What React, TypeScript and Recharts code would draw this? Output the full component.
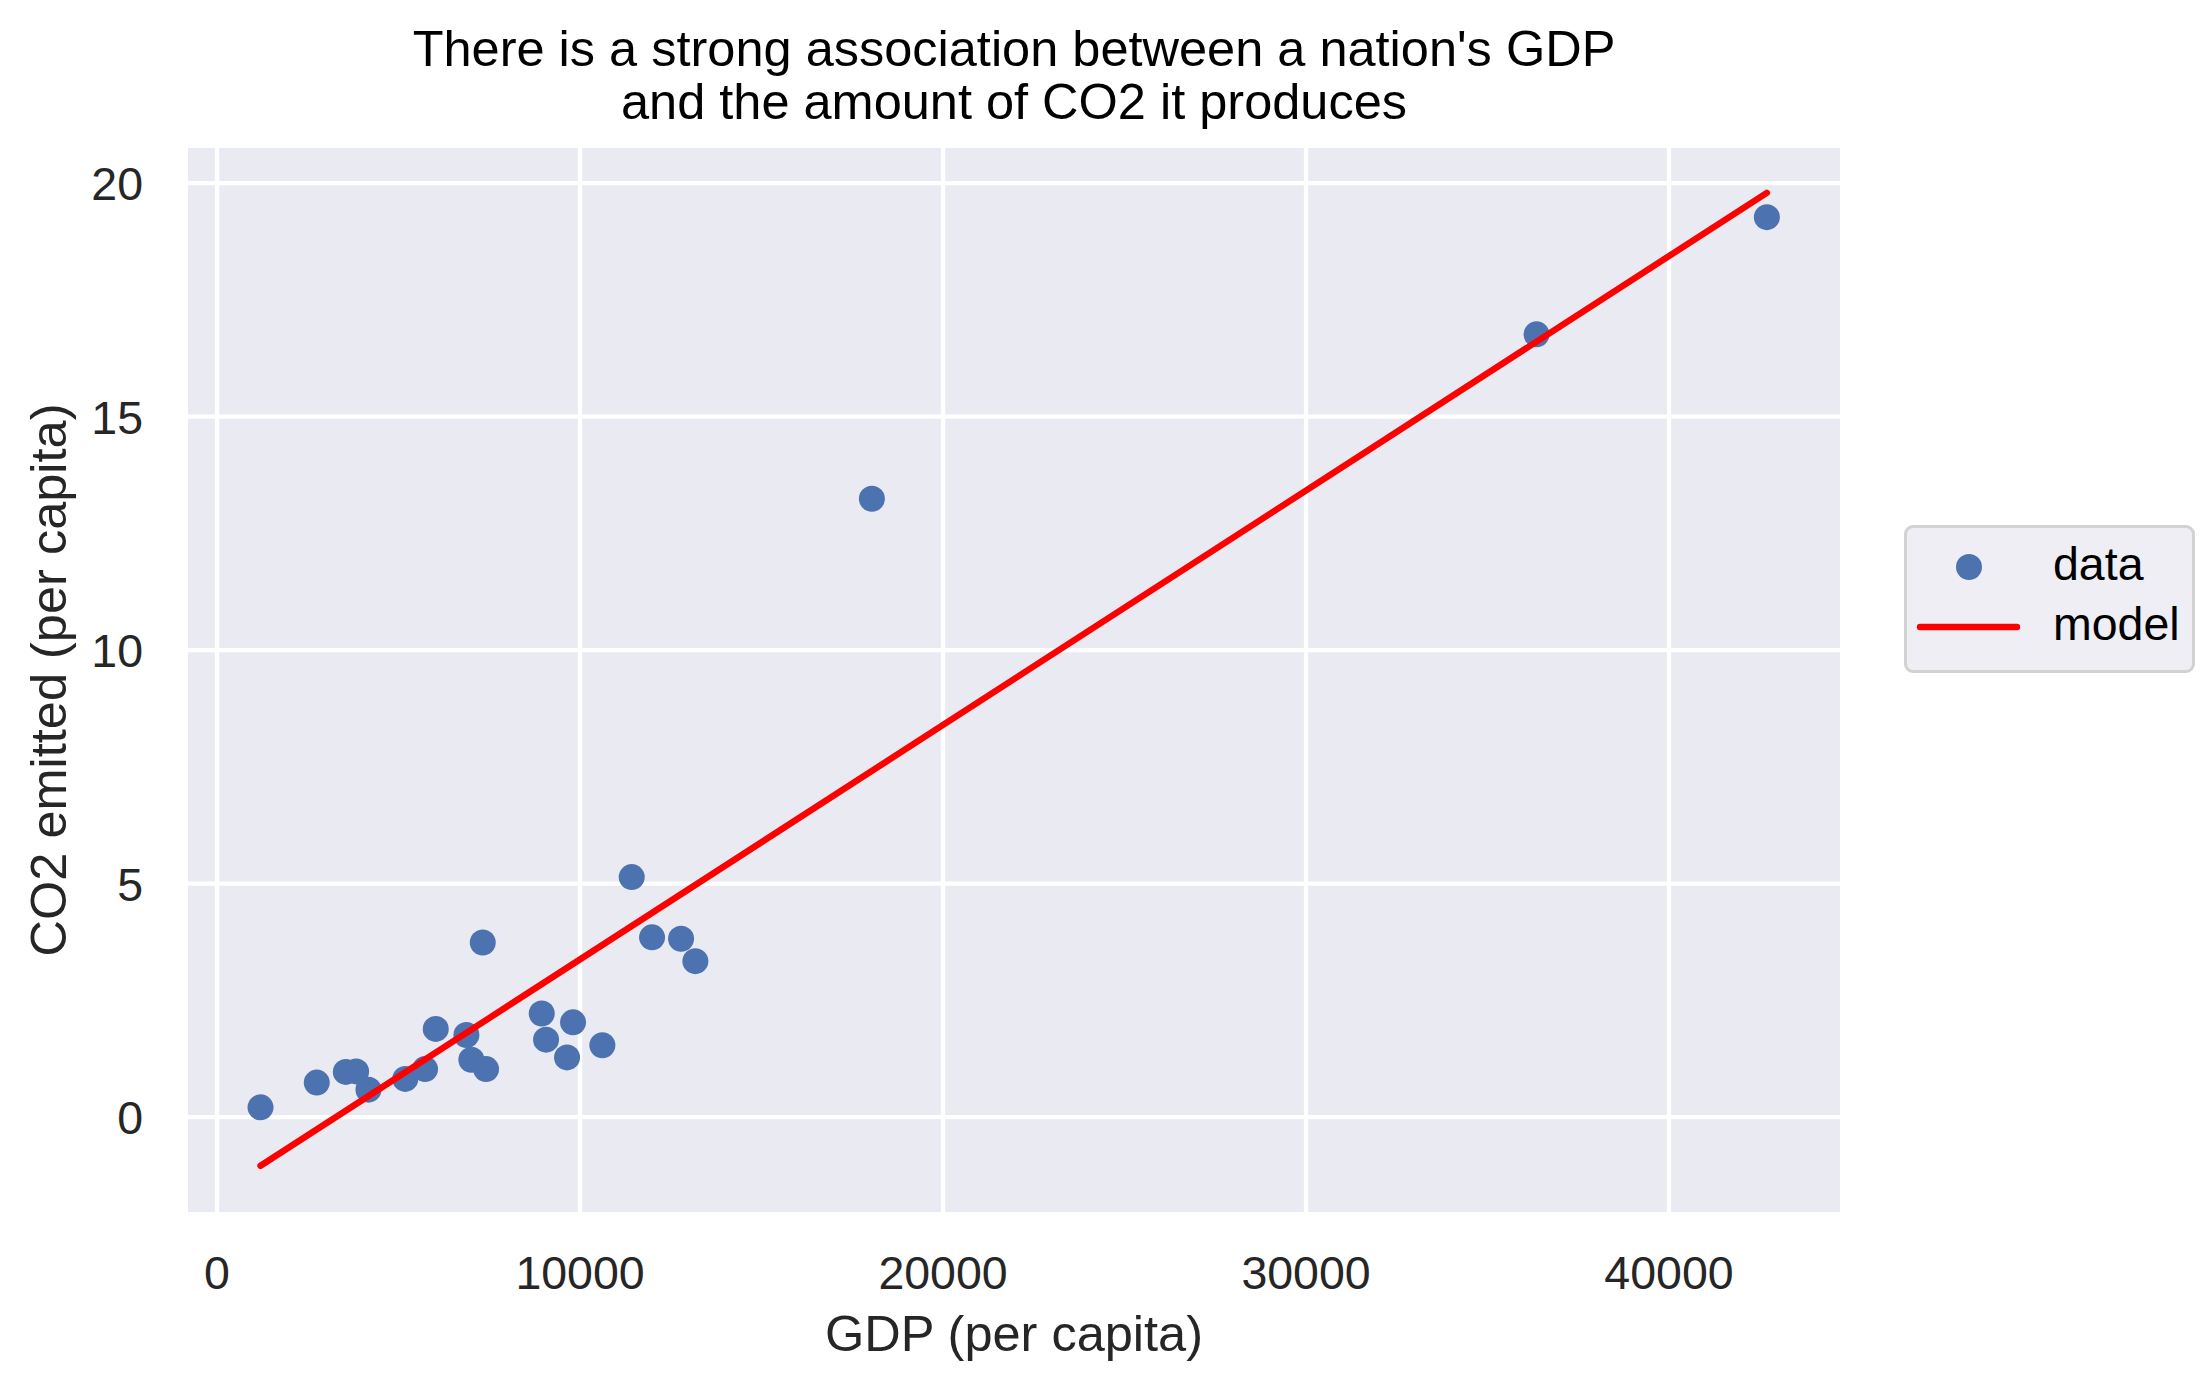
import React from "react";
import { ScatterChart, Scatter, XAxis, YAxis, CartesianGrid, Legend } from "recharts";

const gdpValues = [1198, 2747, 3548, 3832, 4171, 5185, 5730, 6025, 6869, 7006, 7320, 7411, 8945, 9064, 9642, 9807, 10615, 11424, 11984, 12783, 13177, 18040, 36350, 42695];
const co2Values = [0.21, 0.74, 0.97, 0.98, 0.59, 0.82, 1.03, 1.89, 1.76, 1.23, 3.74, 1.03, 2.22, 1.66, 1.28, 2.03, 1.54, 5.14, 3.85, 3.82, 3.34, 13.24, 16.76, 19.27];
const modelGdp = [1198, 42695];
const modelCo2 = [-1.04, 19.79];
const xTicks = [0, 10000, 20000, 30000, 40000];
const yTicks = [0, 5, 10, 15, 20];
const titleLines = ["There is a strong association between a nation's GDP", "and the amount of CO2 it produces"];
const xLabel = "GDP (per capita)";
const yLabel = "CO2 emitted (per capita)";

const dataPts = gdpValues.map((g, i) => ({ gdp: g, co2: co2Values[i] }));
const modelPts = modelGdp.map((g, i) => ({ gdp: g, co2: modelCo2[i] }));

const FONT = '"Liberation Sans", Arial, sans-serif';

const XTick = (props: any) => (
  <text x={props.x} y={1289} textAnchor="middle" fontFamily={FONT} fontSize={46.5} fill="#262626">
    {props.payload.value}
  </text>
);

const YTick = (props: any) => (
  <text x={143} y={props.y} dy={17} textAnchor="end" fontFamily={FONT} fontSize={46.5} fill="#262626">
    {props.payload.value}
  </text>
);

const renderLegend = (props: any) => {
  const payload = props.payload || [];
  return (
    <div style={{ width: 291, height: 148, boxSizing: "border-box", border: "3px solid #D2D2D2", borderRadius: 9, background: "#EEEEF4" }}>
      <svg width={285} height={142} style={{ display: "block" }}>
        {payload.map((entry: any, i: number) => {
          const cy = i === 0 ? 39 : 99;
          return (
            <g key={i}>
              {entry.type === "line" ? (
                <line x1={13} x2={110} y1={cy} y2={cy} stroke="#FF0000" strokeWidth={6.4} strokeLinecap="round" />
              ) : (
                <circle cx={62} cy={cy} r={13} fill="#4C72B0" />
              )}
              <text x={146} y={cy + 13} fontFamily={FONT} fontSize={46.5} fill="#000">
                {entry.value}
              </text>
            </g>
          );
        })}
      </svg>
    </div>
  );
};

export default function App() {
  return (
    <div style={{ position: "absolute", left: 0, top: 0, width: 2200, height: 1391, background: "#fff" }}>
      <ScatterChart width={2200} height={1391} margin={{ top: 148, right: 360, bottom: 79, left: 88 }}>
        <CartesianGrid fill="#EAEAF2" stroke="#FFFFFF" strokeWidth={4.3} horizontalValues={yTicks} verticalValues={xTicks} />
        <XAxis
          type="number"
          dataKey="gdp"
          domain={[-800, 44710]}
          ticks={xTicks}
          allowDataOverflow
          axisLine={false}
          tickLine={false}
          height={100}
          tick={<XTick />}
          interval={0}
        />
        <YAxis
          type="number"
          dataKey="co2"
          domain={[-2.03, 20.75]}
          ticks={yTicks}
          allowDataOverflow
          axisLine={false}
          tickLine={false}
          width={100}
          tick={<YTick />}
          interval={0}
        />
        <Legend
          content={renderLegend}
          layout="horizontal"
          verticalAlign="middle"
          align="center"
          wrapperStyle={{ left: 1904, top: 525, width: 291, height: 148 }}
        />
        <Scatter
          name="data"
          data={dataPts}
          fill="#4C72B0"
          legendType="circle"
          isAnimationActive={false}
          shape={(p: any) => <circle cx={p.cx} cy={p.cy} r={13} fill="#4C72B0" />}
        />
        <Scatter
          name="model"
          data={modelPts}
          fill="#FF0000"
          legendType="line"
          line={{ stroke: "#FF0000", strokeWidth: 6.4, strokeLinecap: "round" }}
          lineType="joint"
          isAnimationActive={false}
          shape={() => <g />}
        />
      </ScatterChart>
      <svg width={2200} height={1391} style={{ position: "absolute", left: 0, top: 0, pointerEvents: "none" }}>
        <text x={1014} y={66} textAnchor="middle" fontFamily={FONT} fontSize={50.5} fill="#000">{titleLines[0]}</text>
        <text x={1014} y={119} textAnchor="middle" fontFamily={FONT} fontSize={50.5} fill="#000">{titleLines[1]}</text>
        <text x={1014} y={1351} textAnchor="middle" fontFamily={FONT} fontSize={50.5} fill="#262626">{xLabel}</text>
        <text x={66} y={680} textAnchor="middle" fontFamily={FONT} fontSize={50.5} fill="#262626" transform="rotate(-90, 66, 680)">{yLabel}</text>
      </svg>
    </div>
  );
}
